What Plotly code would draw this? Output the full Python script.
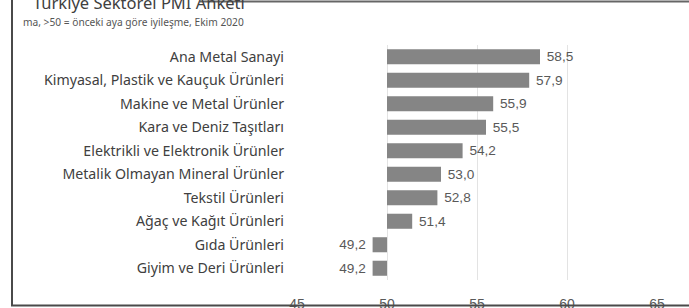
import plotly.graph_objects as go

categories = [
    "Ana Metal Sanayi",
    "Kimyasal, Plastik ve Kauçuk Ürünleri",
    "Makine ve Metal Ürünler",
    "Kara ve Deniz Taşıtları",
    "Elektrikli ve Elektronik Ürünler",
    "Metalik Olmayan Mineral Ürünler",
    "Tekstil Ürünleri",
    "Ağaç ve Kağıt Ürünleri",
    "Gıda Ürünleri",
    "Giyim ve Deri Ürünleri",
]
pmi_values = [58.5, 57.9, 55.9, 55.5, 54.2, 53.0, 52.8, 51.4, 49.2, 49.2]
threshold = 50
x_ticks = [45, 50, 55, 60, 65]

title_text = "Türkiye Sektörel PMI Anketi"
subtitle_text = "ma, >50 = önceki aya göre iyileşme, Ekim 2020"

W, H = 689, 308
ML, MR, MT, MB = 297, 32, 45, 28
PW, PH = W - ML - MR, H - MT - MB


def px_x(p):
    return (p - ML) / PW


def px_y(p):
    return (H - MB - p) / PH


labels = []
for v in pmi_values:
    s = f"{v:.1f}".replace(".", ",")
    labels.append(" " + s if v >= threshold else s + " ")

fig = go.Figure(
    go.Bar(
        y=categories,
        x=[v - threshold for v in pmi_values],
        base=threshold,
        orientation="h",
        marker=dict(color="#858585", line=dict(width=0)),
        text=labels,
        textposition="outside",
        textfont=dict(family="Liberation Sans, Arial", size=14.5, color="#595959"),
        cliponaxis=False,
        hoverinfo="skip",
    )
)

fig.update_layout(
    width=W,
    height=H,
    margin=dict(l=ML, r=MR, t=MT, b=MB, autoexpand=False),
    paper_bgcolor="white",
    plot_bgcolor="white",
    showlegend=False,
    bargap=0.36,
    xaxis=dict(
        range=[45, 65],
        tickvals=x_ticks,
        ticktext=[str(t) for t in x_ticks],
        showgrid=True,
        gridcolor="#e3e3e3",
        gridwidth=1,
        zeroline=False,
        showline=False,
        ticks="",
        ticklabelstandoff=14,
        tickfont=dict(family="Liberation Sans, Arial", size=14, color="#595959"),
    ),
    yaxis=dict(
        autorange="reversed",
        showgrid=False,
        zeroline=False,
        showline=False,
        ticks="",
        ticklabelstandoff=12,
        tickfont=dict(family="Noto Sans", size=14.2, color="#404040"),
    ),
    shapes=[
        dict(type="line", xref="paper", yref="paper", x0=px_x(12), x1=px_x(12),
             y0=px_y(0), y1=px_y(306), line=dict(color="#4a4a4a", width=2), layer="above"),
        dict(type="line", xref="paper", yref="paper", x0=px_x(11), x1=px_x(700),
             y0=px_y(305.5), y1=px_y(305.5), line=dict(color="#4a4a4a", width=2), layer="above"),
        dict(type="line", xref="paper", yref="paper", x0=px_x(200), x1=px_x(689),
             y0=px_y(1.5), y1=px_y(1.5), line=dict(color="#666666", width=2), layer="above"),
    ],
    annotations=[
        dict(text=title_text, xref="paper", yref="paper", x=px_x(31), y=px_y(16),
             xanchor="left", yanchor="bottom", showarrow=False,
             font=dict(family="Noto Sans", size=16.5, color="#404040")),
        dict(text=subtitle_text, xref="paper", yref="paper", x=px_x(21), y=px_y(22),
             xanchor="left", yanchor="middle", showarrow=False,
             font=dict(family="Noto Sans", size=10.2, color="#555555")),
    ],
)

fig.write_html("out.html", config={"displayModeBar": False},
               post_script="document.body.style.margin='0';")
